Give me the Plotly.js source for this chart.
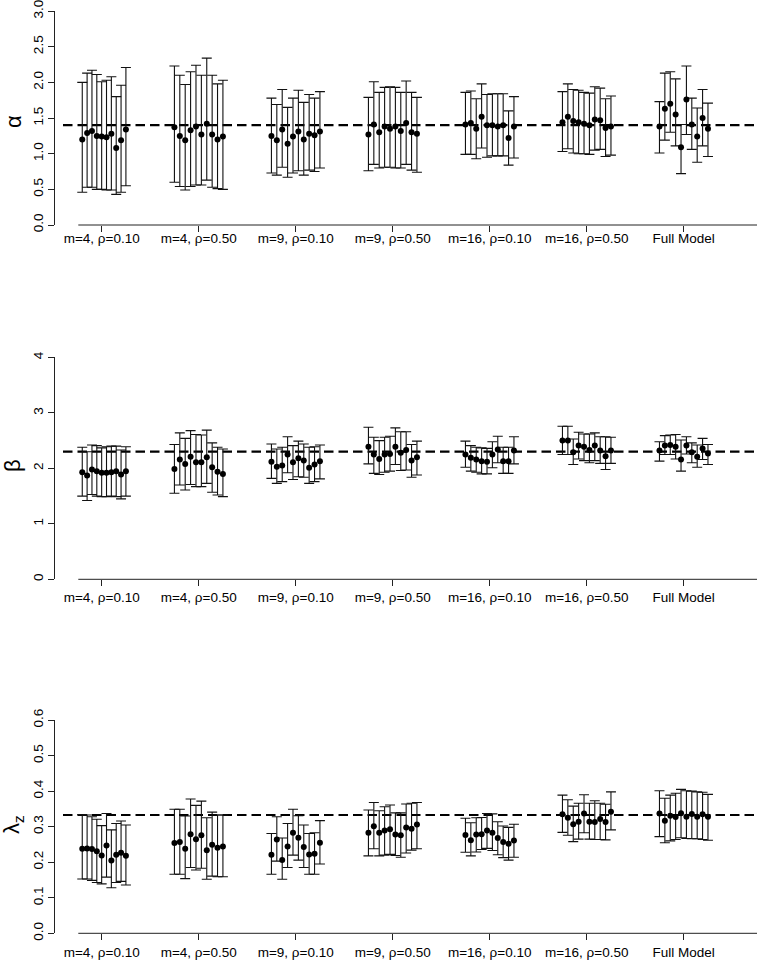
<!DOCTYPE html>
<html>
<head>
<meta charset="utf-8">
<script src="https://cdn.plot.ly/plotly-3.0.1.min.js"></script>
<style>
  html, body { margin: 0; padding: 0; background: #fff; }
  #chart { width: 759px; height: 960px; }
</style>
</head>
<body>
<div id="chart"></div>
<script>
// ---------------- data ----------------
const groups = ["m=4, \u03C1=0.10", "m=4, \u03C1=0.50", "m=9, \u03C1=0.10", "m=9, \u03C1=0.50",
                "m=16, \u03C1=0.10", "m=16, \u03C1=0.50", "Full Model"];
const reps = 10;

const trueAlpha = 1.4;
const trueBeta = 2.3;
const trueLambda = 0.333;

// y tick labels for the three panels
const alphaTicks = ["0.0", "0.5", "1.0", "1.5", "2.0", "2.5", "3.0"];
const betaTicks = ["0", "1", "2", "3", "4"];
const lambdaTicks = ["0.0", "0.1", "0.2", "0.3", "0.4", "0.5", "0.6"];

// alpha: estimates, lower and upper limits (10 replicates per group)
const alphaEst = [
  1.20, 1.29, 1.32, 1.25, 1.24, 1.23, 1.28, 1.08, 1.19, 1.34,
  1.37, 1.25, 1.19, 1.33, 1.38, 1.27, 1.42, 1.27, 1.20, 1.24,
  1.25, 1.19, 1.34, 1.14, 1.24, 1.31, 1.20, 1.28, 1.26, 1.31,
  1.27, 1.41, 1.30, 1.38, 1.35, 1.38, 1.32, 1.43, 1.30, 1.28,
  1.41, 1.43, 1.35, 1.52, 1.40, 1.40, 1.38, 1.40, 1.22, 1.38,
  1.44, 1.52, 1.46, 1.44, 1.42, 1.40, 1.48, 1.47, 1.36, 1.38,
  1.38, 1.63, 1.70, 1.55, 1.09, 1.76, 1.41, 1.24, 1.50, 1.35
];
const alphaLo = [
  0.46, 0.53, 0.53, 0.50, 0.50, 0.49, 0.49, 0.43, 0.46, 0.55,
  0.60, 0.54, 0.49, 0.54, 0.56, 0.56, 0.63, 0.53, 0.51, 0.50,
  0.73, 0.70, 0.81, 0.67, 0.73, 0.76, 0.70, 0.77, 0.75, 0.80,
  0.76, 0.85, 0.80, 0.81, 0.81, 0.80, 0.80, 0.85, 0.77, 0.74,
  0.99, 0.99, 0.93, 1.08, 0.95, 0.97, 0.97, 0.97, 0.84, 0.94,
  1.03, 1.07, 1.01, 1.00, 1.00, 0.99, 1.05, 1.06, 0.96, 0.98,
  1.01, 1.19, 1.30, 1.11, 0.72, 1.27, 1.06, 0.88, 1.11, 0.96
];
const alphaHi = [
  2.00, 2.13, 2.17, 2.11, 2.01, 2.03, 2.08, 1.80, 1.96, 2.21,
  2.23, 2.10, 1.97, 2.15, 2.24, 2.10, 2.34, 2.10, 1.98, 2.03,
  1.78, 1.69, 1.90, 1.65, 1.78, 1.89, 1.72, 1.83, 1.78, 1.87,
  1.79, 2.01, 1.86, 1.93, 1.94, 1.93, 1.86, 2.02, 1.86, 1.79,
  1.86, 1.88, 1.77, 1.98, 1.83, 1.84, 1.84, 1.84, 1.60, 1.80,
  1.87, 1.98, 1.90, 1.89, 1.86, 1.85, 1.94, 1.92, 1.77, 1.81,
  1.73, 2.13, 2.15, 2.05, 1.41, 2.23, 1.78, 1.64, 1.90, 1.71
];

// beta
const betaEst = [
  1.93, 1.87, 1.98, 1.95, 1.92, 1.92, 1.93, 1.95, 1.89, 1.95,
  1.99, 2.16, 2.08, 2.21, 2.11, 2.11, 2.20, 2.02, 1.94, 1.90,
  2.12, 2.03, 2.05, 2.25, 2.11, 2.18, 2.14, 2.01, 2.07, 2.13,
  2.39, 2.25, 2.17, 2.25, 2.26, 2.39, 2.28, 2.33, 2.14, 2.20,
  2.25, 2.19, 2.16, 2.13, 2.12, 2.25, 2.34, 2.13, 2.13, 2.32,
  2.50, 2.50, 2.29, 2.41, 2.39, 2.33, 2.41, 2.32, 2.22, 2.32,
  2.32, 2.41, 2.42, 2.39, 2.16, 2.41, 2.29, 2.21, 2.36, 2.27
];
const betaLo = [
  1.50, 1.42, 1.53, 1.50, 1.49, 1.49, 1.50, 1.49, 1.45, 1.50,
  1.55, 1.70, 1.61, 1.71, 1.67, 1.67, 1.73, 1.57, 1.52, 1.49,
  1.82, 1.73, 1.76, 1.92, 1.80, 1.85, 1.84, 1.73, 1.76, 1.81,
  2.08, 1.91, 1.89, 1.93, 1.95, 2.07, 1.96, 1.97, 1.84, 1.88,
  2.02, 1.95, 1.93, 1.90, 1.90, 2.01, 2.10, 1.91, 1.91, 2.08,
  2.25, 2.25, 2.07, 2.17, 2.14, 2.10, 2.14, 2.09, 1.98, 2.09,
  2.13, 2.25, 2.25, 2.17, 1.95, 2.26, 2.10, 2.02, 2.16, 2.07
];
const betaHi = [
  2.38, 2.30, 2.42, 2.41, 2.37, 2.39, 2.40, 2.40, 2.33, 2.39,
  2.43, 2.64, 2.54, 2.68, 2.61, 2.60, 2.69, 2.46, 2.38, 2.35,
  2.44, 2.35, 2.38, 2.57, 2.41, 2.49, 2.44, 2.38, 2.39, 2.42,
  2.74, 2.56, 2.50, 2.56, 2.58, 2.73, 2.66, 2.66, 2.43, 2.49,
  2.49, 2.41, 2.38, 2.37, 2.36, 2.48, 2.58, 2.38, 2.38, 2.57,
  2.76, 2.76, 2.53, 2.65, 2.62, 2.62, 2.64, 2.57, 2.57, 2.56,
  2.48, 2.59, 2.60, 2.61, 2.51, 2.57, 2.46, 2.42, 2.54, 2.43
];

// lambda_z
const lambdaEst = [
  0.238, 0.239, 0.237, 0.231, 0.219, 0.247, 0.205, 0.221, 0.227, 0.218,
  0.254, 0.257, 0.238, 0.279, 0.265, 0.276, 0.234, 0.249, 0.241, 0.244,
  0.221, 0.264, 0.206, 0.244, 0.283, 0.269, 0.243, 0.222, 0.224, 0.255,
  0.283, 0.301, 0.283, 0.289, 0.293, 0.278, 0.276, 0.298, 0.294, 0.306,
  0.277, 0.262, 0.278, 0.279, 0.289, 0.283, 0.268, 0.257, 0.252, 0.261,
  0.335, 0.325, 0.307, 0.314, 0.337, 0.314, 0.313, 0.322, 0.313, 0.342,
  0.337, 0.317, 0.331, 0.327, 0.338, 0.328, 0.336, 0.328, 0.335, 0.328
];
const lambdaLo = [
  0.153, 0.153, 0.149, 0.143, 0.139, 0.158, 0.128, 0.143, 0.146, 0.136,
  0.166, 0.166, 0.154, 0.185, 0.178, 0.183, 0.152, 0.161, 0.159, 0.159,
  0.166, 0.203, 0.152, 0.185, 0.220, 0.206, 0.185, 0.166, 0.166, 0.195,
  0.218, 0.238, 0.218, 0.220, 0.222, 0.219, 0.214, 0.226, 0.234, 0.238,
  0.228, 0.218, 0.229, 0.236, 0.239, 0.233, 0.221, 0.213, 0.206, 0.214,
  0.284, 0.276, 0.258, 0.265, 0.283, 0.265, 0.264, 0.264, 0.263, 0.291,
  0.272, 0.255, 0.260, 0.264, 0.269, 0.267, 0.266, 0.266, 0.264, 0.262
];
const lambdaHi = [
  0.334, 0.333, 0.328, 0.321, 0.303, 0.337, 0.291, 0.309, 0.316, 0.305,
  0.349, 0.349, 0.330, 0.378, 0.360, 0.372, 0.325, 0.341, 0.333, 0.333,
  0.281, 0.328, 0.268, 0.309, 0.349, 0.331, 0.305, 0.281, 0.283, 0.317,
  0.347, 0.368, 0.345, 0.356, 0.361, 0.339, 0.339, 0.364, 0.366, 0.368,
  0.324, 0.311, 0.325, 0.326, 0.337, 0.336, 0.314, 0.302, 0.298, 0.307,
  0.389, 0.376, 0.358, 0.366, 0.390, 0.366, 0.373, 0.366, 0.363, 0.398,
  0.401, 0.380, 0.389, 0.394, 0.405, 0.401, 0.400, 0.398, 0.397, 0.391
];

// ---------------- layout helpers ----------------
const W = 759, H = 960, L = 55;
const FONT = '"Liberation Sans", Arial, Helvetica, sans-serif';

// x positions: groups at 1..7, replicates spread around the group centre
function xPositions() {
  const xs = [];
  for (let g = 0; g < groups.length; g++) {
    for (let j = 0; j < reps; j++) {
      const off = (g === 0) ? -0.2 + 0.05 * j : -0.25 + j * (0.5 / (reps - 1));
      xs.push(g + 1 + off);
    }
  }
  return xs;
}
const xs = xPositions();

function panelTrace(est, lo, hi, xa, ya) {
  return {
    type: 'scatter', mode: 'markers',
    x: xs, y: est, xaxis: xa, yaxis: ya,
    marker: { color: '#000', size: 6 },
    error_y: {
      type: 'data', symmetric: false,
      array: est.map((v, i) => hi[i] - v),
      arrayminus: est.map((v, i) => v - lo[i]),
      color: '#111', thickness: 1.1, width: 5
    },
    hoverinfo: 'x+y', showlegend: false
  };
}

// pixel rows of each panel (top of range, bottom = 0)
const panels = [
  { top: 11,    bot: 225,   max: 3,   labels: alphaTicks,  truth: trueAlpha,  title: '\u03B1', ty: 122, lblOff: -5 },
  { top: 357.3, bot: 579.3, max: 4,   labels: betaTicks,   truth: trueBeta,   title: '\u03B2', ty: 466, lblOff: -1 },
  { top: 720,   bot: 933.3, max: 0.6, labels: lambdaTicks, truth: trueLambda, title: '\u03BB<sub>z</sub>', ty: 825, lblOff: 0 }
];

const xRange = [0.519, 7.776];
const layout = {
  width: W, height: H,
  margin: { l: L, r: 0, t: 0, b: 0, pad: 0 },
  paper_bgcolor: '#fff', plot_bgcolor: '#fff',
  showlegend: false,
  font: { family: FONT, color: '#000', size: 13 },
  shapes: [], annotations: []
};

panels.forEach((p, k) => {
  const sfx = k === 0 ? '' : String(k + 1);
  const dom = [1 - p.bot / H, 1 - p.top / H];
  layout['xaxis' + sfx] = {
    domain: [0, 1], anchor: 'y' + sfx, range: xRange,
    tickmode: 'array', tickvals: groups.map((_, i) => i + 1), ticktext: groups,
    ticks: 'outside', ticklen: 6, tickwidth: 1, tickcolor: '#222',
    ticklabelstandoff: p.lblOff,
    showline: false, showgrid: false, zeroline: false,
    tickfont: { family: FONT, size: 13.5, color: '#000' }
  };
  layout['yaxis' + sfx] = {
    domain: dom, anchor: 'x' + sfx, range: [0, p.max * 1.0005],
    tickmode: 'array', tickvals: p.labels.map(Number), ticktext: p.labels,
    ticks: 'outside', ticklen: 6, tickwidth: 1, tickcolor: '#222',
    showline: true, linecolor: '#222', linewidth: 1,
    showgrid: false, zeroline: false, tickangle: -90,
    ticklabeloverflow: 'allow',
    tickfont: { family: FONT, size: 13.5, color: '#000' }
  };
  // x axis line (R style, not spanning whole plot width)
  layout.shapes.push({
    type: 'line', xref: 'paper', yref: 'paper',
    x0: (78.3 - L) / (W - L), x1: (757 - L) / (W - L), y0: dom[0], y1: dom[0],
    line: { color: '#222', width: 1 }, layer: 'above'
  });
  // true value reference line
  layout.shapes.push({
    type: 'line', xref: 'paper', yref: 'y' + sfx,
    x0: (63 - L) / (W - L), x1: 1, y0: p.truth, y1: p.truth,
    line: { color: '#000', width: 2.2, dash: '9.5px,5px' }, layer: 'below'
  });
  // y axis title
  layout.annotations.push({
    xref: 'paper', yref: 'paper', x: (13 - L) / (W - L), y: 1 - p.ty / H,
    text: p.title, showarrow: false, textangle: -90,
    xanchor: 'center', yanchor: 'middle',
    font: { family: FONT, size: 22, color: '#000' }
  });
});

const data = [
  panelTrace(alphaEst, alphaLo, alphaHi, 'x', 'y'),
  panelTrace(betaEst, betaLo, betaHi, 'x2', 'y2'),
  panelTrace(lambdaEst, lambdaLo, lambdaHi, 'x3', 'y3')
];

Plotly.newPlot('chart', data, layout, { displayModeBar: false, staticPlot: true });
</script>
</body>
</html>
